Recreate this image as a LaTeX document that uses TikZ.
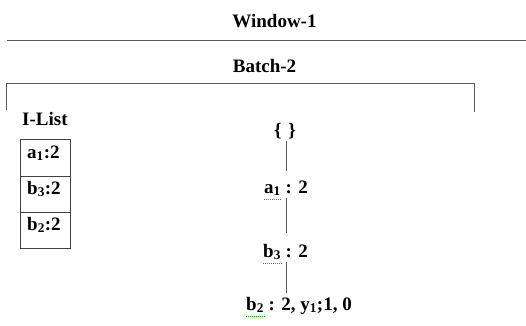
\documentclass[tikz,border=0pt]{standalone}
\usepackage{fontspec}
\setmainfont{Liberation Serif}
\begin{document}
\begin{tikzpicture}[x=1pt,y=-1pt,
  lbl/.style={inner sep=0pt,font=\fontsize{19}{22}\selectfont\bfseries},
  rule/.style={draw=black!65,line width=1pt},
  cell/.style={draw=black!75,line width=0.9pt},
  link/.style={draw=black!65,line width=1pt},
  squig/.style={draw=green!70!black,dash pattern=on 1pt off 1pt,line width=1pt}]
\useasboundingbox (0,0) rectangle (526,325);
% titles
\node[lbl,anchor=base] (win) at (274.5,27) {Window-1};
\coordinate (wl) at (7,40);
\coordinate (wr) at (526,40);
\draw[rule] (wl) -- (wr);
\node[lbl,anchor=base] (batch) at (264.5,72) {Batch-2};
\coordinate (bl) at (6,110);
\coordinate (btl) at (6,83);
\coordinate (btr) at (474,83);
\coordinate (br) at (474,112);
\draw[rule] (bl) -- (btl) -- (btr) -- (br);
% I-List
\node[lbl,anchor=base west] (ilist) at (22,125) {I-List};
\node[cell,minimum width=50pt,minimum height=37pt,anchor=north west,inner sep=0pt] (c1) at (20,139) {};
\node[cell,minimum width=50pt,minimum height=36pt,anchor=north west,inner sep=0pt] (c2) at (20,176) {};
\node[cell,minimum width=50pt,minimum height=36pt,anchor=north west,inner sep=0pt] (c3) at (20,212) {};
\node[lbl,anchor=base west] (t1) at (27,158) {a\textsubscript{1}:2};
\node[lbl,anchor=base west] (t2) at (27,194) {b\textsubscript{3}:2};
\node[lbl,anchor=base west] (t3) at (27,230) {b\textsubscript{2}:2};
% tree
\coordinate (ax) at (286,0);
\node[lbl,anchor=base] (root) at (285,136) {\{\hspace{0.35em}\}};
\node[lbl,anchor=base west] (na) at (264,193) {a\textsubscript{1} : 2};
\node[lbl,anchor=base west] (nb) at (263,257) {b\textsubscript{3} : 2};
\node[lbl,anchor=base west] (nc) at (246,310) {b\textsubscript{2} : 2, y\textsubscript{1};1, 0};
\draw[link] ([yshift=-2pt]root.south -| ax) -- ([yshift=9pt]na.north -| ax);
\draw[link] ([yshift=-2pt]na.south -| ax) -- ([yshift=11pt]nb.north -| ax);
\draw[link] ([yshift=-2pt]nb.south -| ax) -- ([yshift=4pt]nc.north -| ax);
% spell-check underlines
\draw[squig] ([yshift=-6pt]na.base west) -- ++(18,0);
\draw[squig] ([yshift=-6pt]nb.base west) -- ++(20,0);
\draw[squig] ([yshift=-6pt]nc.base west) -- ++(20,0);
\end{tikzpicture}
\end{document}
